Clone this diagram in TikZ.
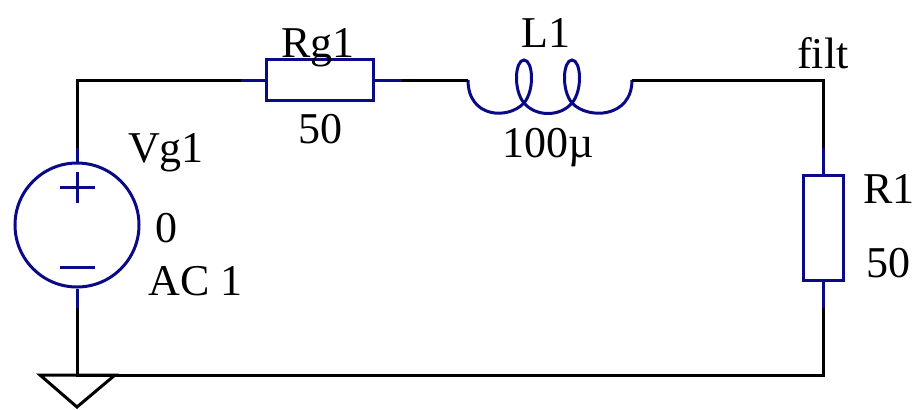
\documentclass[tikz,border=0pt]{standalone}
\usepackage{fontspec}
\setmainfont{Liberation Serif}
\definecolor{partblue}{RGB}{10,10,135}
\tikzset{
  wire/.style={line width=1.5pt,black,line join=miter},
  part/.style={line width=1.5pt,partblue},
  lbl/.style={inner sep=0pt,anchor=base,font=\fontsize{22}{26}\selectfont}
}
\begin{document}
\begin{tikzpicture}[x=0.5pt,y=-0.5pt]
\useasboundingbox (0,0) rectangle (922,409);

% corners of the loop
\coordinate (tl) at (77,80);
\coordinate (tr) at (823,80);
\coordinate (bl) at (77,375);
\coordinate (br) at (823,375);

% Vg1
\node[part,draw,circle,minimum size=62pt,inner sep=0pt] (vg) at (77,225) {};
\coordinate (vgp) at (77,148);
\coordinate (vgm) at (77,308);
\draw[part] (vgp) -- (vg.north) (vg.south) -- (vgm);
\draw[part] (60,187) -- (95,187) (77,172) -- (77,203);
\draw[part] (60,267) -- (95,267);

% Rg1
\node[part,draw,rectangle,minimum width=53.5pt,minimum height=20.5pt,inner sep=0pt] (rg) at (319.5,80) {};
\coordinate (rga) at (241,80);
\coordinate (rgb) at (402,80);
\draw[part] (rga) -- (rg.west) (rg.east) -- (rgb);

% L1
\coordinate (la) at (468,80);
\coordinate (lb) at (632,80);
\draw[part]
(la) .. controls (468,118) and (508,120) .. (524,103)
.. controls (535,90) and (533,60) .. (524,60)
.. controls (515,60) and (513,90) .. (524,103)
.. controls (536,117) and (560,117) .. (572,103)
.. controls (583,90) and (581,60) .. (572,60)
.. controls (563,60) and (561,90) .. (572,103)
.. controls (588,120) and (632,118) .. (lb);

% R1
\node[part,draw,rectangle,minimum width=20pt,minimum height=52.5pt,inner sep=0pt] (rl) at (823,227.5) {};
\coordinate (rla) at (823,148);
\coordinate (rlb) at (823,308);
\draw[part] (rla) -- (rl.north) (rl.south) -- (rlb);

% wires
\draw[wire] (rga) -- (tl) -- (vgp);
\draw[wire] (rgb) -- (la);
\draw[wire] (lb) -- (tr) -- (rla);
\draw[wire] (rlb) -- (br) -- (bl) -- (vgm);

% ground
\draw[wire] (40,375) -- (115,375) -- (77,407) -- cycle;

% labels
\node[lbl] (vgname) at (166,162) {Vg1};
\node[lbl,anchor=base west] (vgdc) at (155,242) {0};
\node[lbl,anchor=base west] (vgac) at (148,295) {AC 1};
\node[lbl] (rgname) at (318,57) {Rg1};
\node[lbl] (rgval) at (320,143) {50};
\node[lbl] (lname) at (546,47) {L1};
\node[lbl] (lval) at (548,157) {100µ};
\node[lbl] (filt) at (823,68) {filt};
\node[lbl,anchor=base west] (rlname) at (863,203) {R1};
\node[lbl,anchor=base west] (rlval) at (866,277) {50};
\end{tikzpicture}
\end{document}
